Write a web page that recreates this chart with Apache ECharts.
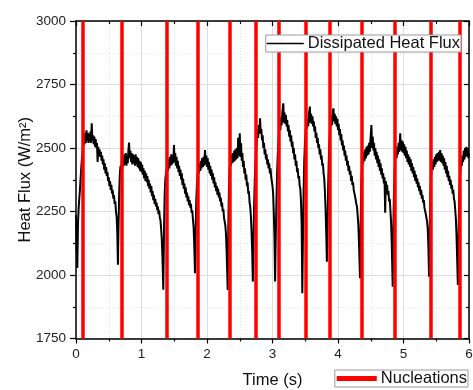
<!DOCTYPE html>
<html>
<head>
<meta charset="utf-8">
<script src="https://cdn.jsdelivr.net/npm/echarts@6/dist/echarts.min.js"></script>
<style>
html,body{margin:0;padding:0;background:#fff;}
#chart{width:473px;height:390px;}
</style>
</head>
<body>
<div id="chart"></div>
<script>
// ---- data ----
const xTicks = [0, 1, 2, 3, 4, 5, 6];
const yTicks = [1750, 2000, 2250, 2500, 2750, 3000];

const nucleationTimes = [0.102, 0.698, 1.379, 1.858, 2.347, 2.744, 3.089, 3.496, 3.867, 4.362, 4.870, 5.415, 5.863];

// Dissipated heat flux [time (s), W/m2]
const heatFlux = [
[0.000,2235],[0.006,2150],[0.010,2090],[0.014,2130],[0.020,2028],[0.030,2200],[0.040,2260],[0.050,2300],[0.060,2335],[0.070,2380],[0.080,2420],[0.090,2455],[0.100,2480],[0.110,2510],[0.120,2545],[0.130,2515],[0.140,2560],[0.150,2520],[0.160,2570],[0.170,2530],[0.180,2560],[0.190,2520],[0.200,2555],[0.210,2525],[0.220,2565],[0.230,2520],[0.240,2597],[0.250,2530],[0.260,2550],[0.270,2515],[0.280,2545],[0.290,2505],[0.300,2535],[0.310,2500],[0.320,2520],[0.330,2445],[0.340,2505],[0.350,2470],[0.360,2495],[0.370,2465],[0.380,2485],[0.390,2450],[0.400,2470],[0.410,2435],[0.420,2455],[0.430,2415],[0.440,2440],[0.450,2400],[0.460,2425],[0.470,2390],[0.480,2405],[0.490,2370],[0.500,2385],[0.510,2350],[0.520,2370],[0.530,2335],[0.540,2355],[0.550,2320],[0.560,2335],[0.570,2300],[0.580,2315],[0.590,2280],[0.600,2290],[0.610,2250],[0.620,2230],[0.630,2170],[0.640,2040],
[0.650,2200],[0.660,2330],[0.670,2400],[0.680,2430],[0.690,2415],[0.700,2450],
[0.710,2425],[0.720,2465],[0.730,2430],[0.740,2475],[0.750,2435],[0.760,2480],[0.770,2430],[0.780,2470],[0.790,2440],[0.800,2490],[0.810,2521],[0.820,2460],[0.830,2490],[0.840,2445],[0.850,2480],[0.860,2435],[0.870,2475],[0.880,2440],[0.890,2470],[0.900,2430],[0.910,2475],[0.920,2435],[0.930,2465],[0.940,2425],[0.950,2460],[0.960,2420],[0.970,2450],[0.980,2410],[0.990,2445],[1.000,2405],[1.010,2435],[1.020,2395],[1.030,2420],[1.040,2380],[1.050,2410],[1.060,2370],[1.070,2400],[1.080,2365],[1.090,2390],[1.100,2350],[1.110,2375],[1.120,2340],[1.130,2360],[1.140,2325],[1.150,2350],[1.160,2310],[1.170,2330],[1.180,2295],[1.190,2315],[1.200,2280],[1.210,2300],[1.220,2270],[1.230,2285],[1.240,2255],[1.250,2270],[1.260,2240],[1.270,2255],[1.280,2225],[1.290,2215],[1.300,2180],[1.310,2140],[1.320,2070],[1.333,1942],
[1.345,2200],[1.355,2330],[1.365,2380],[1.375,2400],[1.385,2420],
[1.395,2440],[1.405,2410],[1.415,2455],[1.425,2420],[1.435,2465],[1.445,2430],[1.455,2475],[1.465,2435],[1.475,2470],[1.485,2440],[1.496,2512],[1.505,2445],[1.515,2480],[1.525,2430],[1.535,2465],[1.545,2420],[1.555,2450],[1.565,2405],[1.575,2430],[1.585,2390],[1.595,2415],[1.605,2375],[1.615,2400],[1.625,2355],[1.635,2380],[1.645,2340],[1.655,2360],[1.665,2320],[1.675,2345],[1.685,2305],[1.695,2325],[1.705,2290],[1.715,2310],[1.725,2275],[1.735,2295],[1.745,2265],[1.755,2280],[1.765,2245],[1.775,2255],[1.785,2220],[1.795,2190],[1.805,2120],[1.817,2007],
[1.827,2180],[1.837,2300],[1.847,2360],[1.857,2395],[1.867,2420],
[1.877,2400],[1.887,2440],[1.897,2410],[1.907,2450],[1.917,2420],[1.927,2460],[1.937,2425],[1.947,2465],[1.957,2430],[1.970,2492],[1.980,2435],[1.990,2470],[2.000,2425],[2.010,2460],[2.020,2415],[2.030,2445],[2.040,2400],[2.050,2430],[2.060,2390],[2.070,2415],[2.080,2375],[2.090,2400],[2.100,2360],[2.110,2385],[2.120,2345],[2.130,2365],[2.140,2330],[2.150,2350],[2.160,2315],[2.170,2340],[2.180,2305],[2.190,2325],[2.200,2290],[2.210,2305],[2.220,2270],[2.230,2285],[2.240,2250],[2.250,2260],[2.260,2225],[2.270,2230],[2.280,2195],[2.290,2160],[2.300,2090],[2.316,1941],
[2.326,2200],[2.336,2350],[2.346,2420],[2.356,2450],
[2.366,2430],[2.376,2475],[2.386,2440],[2.396,2480],[2.406,2445],[2.416,2490],[2.426,2450],[2.436,2495],[2.446,2455],[2.456,2500],[2.466,2460],[2.476,2540],[2.486,2470],[2.500,2558],[2.510,2465],[2.520,2520],[2.530,2450],[2.540,2480],[2.550,2425],[2.560,2450],[2.570,2400],[2.580,2420],[2.590,2375],[2.600,2395],[2.610,2350],[2.620,2365],[2.630,2320],[2.640,2330],[2.650,2285],[2.660,2270],[2.670,2230],[2.680,2170],[2.690,2090],[2.700,1974],
[2.710,2150],[2.720,2280],[2.730,2380],[2.740,2440],[2.750,2490],
[2.760,2530],[2.770,2575],[2.780,2540],[2.790,2590],[2.800,2555],[2.810,2617],[2.820,2560],[2.830,2575],[2.840,2530],[2.850,2550],[2.860,2500],[2.870,2520],[2.880,2475],[2.890,2495],[2.900,2455],[2.910,2475],[2.920,2435],[2.930,2455],[2.940,2420],[2.950,2440],[2.960,2400],[2.970,2420],[2.980,2385],[2.990,2390],[3.000,2350],[3.010,2320],[3.020,2245],[3.030,2150],[3.040,1974],
[3.050,2150],[3.060,2290],[3.070,2400],[3.080,2470],[3.090,2520],
[3.100,2570],[3.110,2600],[3.120,2570],[3.130,2620],[3.140,2590],[3.150,2640],[3.165,2676],[3.175,2600],[3.185,2640],[3.195,2595],[3.205,2630],[3.215,2585],[3.225,2610],[3.235,2565],[3.245,2590],[3.255,2545],[3.265,2570],[3.275,2525],[3.285,2550],[3.295,2505],[3.305,2525],[3.315,2480],[3.325,2500],[3.335,2455],[3.345,2475],[3.355,2430],[3.365,2450],[3.375,2405],[3.385,2420],[3.395,2380],[3.405,2390],[3.415,2350],[3.425,2340],[3.435,2290],[3.445,2200],[3.455,1928],
[3.465,2150],[3.475,2330],[3.485,2450],[3.495,2520],[3.505,2560],
[3.515,2600],[3.525,2575],[3.535,2615],[3.545,2585],[3.555,2630],[3.570,2663],[3.580,2600],[3.590,2635],[3.600,2595],[3.610,2625],[3.620,2585],[3.630,2605],[3.640,2565],[3.650,2585],[3.660,2540],[3.670,2560],[3.680,2520],[3.690,2540],[3.700,2500],[3.710,2515],[3.720,2475],[3.730,2495],[3.740,2455],[3.750,2470],[3.760,2430],[3.770,2440],[3.780,2400],[3.790,2380],[3.800,2330],[3.810,2260],[3.820,2170],[3.830,2052],
[3.840,2200],[3.850,2350],[3.860,2460],[3.870,2530],[3.880,2580],
[3.890,2600],[3.900,2625],[3.910,2590],[3.920,2640],[3.930,2656],[3.940,2605],[3.950,2635],[3.960,2595],[3.970,2625],[3.980,2585],[3.990,2615],[4.000,2570],[4.010,2595],[4.020,2550],[4.030,2575],[4.040,2530],[4.050,2555],[4.060,2510],[4.070,2530],[4.080,2490],[4.090,2510],[4.100,2470],[4.110,2490],[4.120,2450],[4.130,2470],[4.140,2430],[4.150,2450],[4.160,2410],[4.170,2430],[4.180,2395],[4.190,2410],[4.200,2370],[4.210,2390],[4.220,2355],[4.230,2365],[4.240,2335],[4.250,2340],[4.260,2310],[4.270,2315],[4.280,2280],[4.290,2270],[4.300,2235],[4.310,2200],[4.320,2130],[4.336,1987],
[4.346,2200],[4.356,2360],[4.366,2420],[4.376,2460],
[4.386,2440],[4.396,2485],[4.406,2450],[4.416,2495],[4.426,2460],[4.436,2505],[4.446,2470],[4.456,2510],[4.466,2475],[4.476,2520],[4.486,2485],[4.496,2535],[4.510,2590],[4.520,2500],[4.530,2545],[4.540,2490],[4.550,2520],[4.560,2470],[4.570,2500],[4.580,2455],[4.590,2485],[4.600,2440],[4.610,2470],[4.620,2425],[4.630,2455],[4.640,2410],[4.650,2440],[4.660,2395],[4.670,2420],[4.680,2380],[4.690,2400],[4.700,2360],[4.710,2385],[4.720,2245],[4.730,2370],[4.740,2335],[4.750,2355],[4.760,2315],[4.770,2330],[4.780,2290],[4.790,2300],[4.800,2255],[4.810,2210],[4.820,2130],[4.835,1954],
[4.845,2180],[4.855,2330],[4.865,2410],[4.875,2460],
[4.885,2490],[4.895,2460],[4.905,2505],[4.915,2475],[4.925,2520],[4.935,2485],[4.950,2558],[4.960,2490],[4.970,2530],[4.980,2485],[4.990,2525],[5.000,2480],[5.010,2515],[5.020,2470],[5.030,2505],[5.040,2460],[5.050,2490],[5.060,2445],[5.070,2475],[5.080,2435],[5.090,2465],[5.100,2425],[5.110,2455],[5.120,2410],[5.130,2440],[5.140,2400],[5.150,2425],[5.160,2385],[5.170,2410],[5.180,2370],[5.190,2395],[5.200,2360],[5.210,2380],[5.220,2345],[5.230,2365],[5.240,2330],[5.250,2350],[5.260,2315],[5.270,2335],[5.280,2300],[5.290,2315],[5.300,2285],[5.310,2295],[5.320,2265],[5.330,2270],[5.340,2240],[5.350,2245],[5.360,2210],[5.370,2180],[5.380,2110],[5.390,1993],
[5.400,2180],[5.410,2320],[5.420,2390],[5.430,2420],
[5.440,2445],[5.450,2415],[5.460,2455],[5.470,2425],[5.480,2465],[5.490,2435],[5.500,2475],[5.510,2445],[5.520,2480],[5.530,2450],[5.540,2485],[5.550,2450],[5.560,2492],[5.570,2445],[5.580,2480],[5.590,2440],[5.600,2470],[5.610,2430],[5.620,2460],[5.630,2415],[5.640,2445],[5.650,2400],[5.660,2430],[5.670,2385],[5.680,2410],[5.690,2370],[5.700,2390],[5.710,2355],[5.720,2375],[5.730,2340],[5.740,2355],[5.750,2320],[5.760,2335],[5.770,2300],[5.780,2290],[5.790,2255],[5.800,2220],[5.810,2150],[5.830,1961],
[5.840,2150],[5.850,2300],[5.860,2380],[5.870,2420],
[5.880,2450],[5.890,2430],[5.900,2470],[5.910,2445],[5.920,2490],[5.930,2455],[5.940,2500],[5.950,2465],[5.960,2505],[5.970,2470],[5.980,2495],[5.990,2460],[6.000,2480]
];

// ---- chart ----
const FONT = 'Liberation Sans, Arial, sans-serif';
const chart = echarts.init(document.getElementById('chart'), null, {renderer: 'canvas'});

const xMin = xTicks[0], xMax = xTicks[xTicks.length - 1];
const yMin = yTicks[0], yMax = yTicks[yTicks.length - 1];
const xInt = xTicks[1] - xTicks[0];
const yInt = yTicks[1] - yTicks[0];

const axisLineStyle = {color: '#000', width: 1.5};
const plain = v => String(v);

chart.setOption({
  animation: false,
  backgroundColor: '#fff',
  grid: {left: 76, right: 4, top: 21, bottom: 51.5, containLabel: false, outerBoundsMode: 'none'},
  legend: [
    {
      data: ['Dissipated Heat Flux'],
      right: 12, top: 35,
      icon: 'rect', itemWidth: 37, itemHeight: 1.5, itemGap: 4,
      padding: [0, 1, 0, 1],
      backgroundColor: '#fff', borderColor: '#9a9a9a', borderWidth: 1,
      textStyle: {fontFamily: FONT, fontSize: 16.5, color: '#111', padding: [0, 0, 0, -1]},
      selectedMode: false, z: 10
    },
    {
      data: ['Nucleations'],
      right: 5, top: 370,
      icon: 'rect', itemWidth: 40, itemHeight: 5, itemGap: 4,
      padding: [0, 1, 0, 2],
      backgroundColor: '#fff', borderColor: '#9a9a9a', borderWidth: 1,
      textStyle: {fontFamily: FONT, fontSize: 16.5, color: '#111', padding: [0, 0, 0, -1]},
      selectedMode: false, z: 10
    }
  ],
  xAxis: [
    {
      type: 'value', position: 'bottom', min: xMin, max: xMax, interval: xInt,
      name: 'Time (s)', nameLocation: 'middle', nameGap: 33, nameMoveOverlap: false,
      nameTextStyle: {fontFamily: FONT, fontSize: 16.5, color: '#111'},
      axisLine: {show: true, onZero: false, lineStyle: axisLineStyle},
      axisTick: {show: true, length: 5, lineStyle: {color: '#000', width: 1.2}},
      minorTick: {show: true, splitNumber: 2, length: 3, lineStyle: {color: '#000', width: 1.2}},
      axisLabel: {fontFamily: FONT, fontSize: 13.5, color: '#222', margin: 9, formatter: plain},
      splitLine: {show: true, lineStyle: {color: '#dedede', width: 1}},
      minorSplitLine: {show: true, lineStyle: {color: '#e4e4e4', width: 1, type: [1, 2]}}
    },
    {
      type: 'value', position: 'top', min: xMin, max: xMax, interval: xInt,
      axisLine: {show: true, onZero: false, lineStyle: axisLineStyle},
      axisTick: {show: true, inside: true, length: 5, lineStyle: {color: '#000', width: 1.2}},
      minorTick: {show: true, splitNumber: 2, length: 3, lineStyle: {color: '#000', width: 1.2}},
      axisLabel: {show: false},
      splitLine: {show: false}
    }
  ],
  yAxis: [
    {
      type: 'value', position: 'left', min: yMin, max: yMax, interval: yInt,
      name: 'Heat Flux (W/m²)', nameLocation: 'middle', nameGap: 42, nameMoveOverlap: false,
      nameTextStyle: {fontFamily: FONT, fontSize: 16.5, color: '#111'},
      axisLine: {show: true, onZero: false, lineStyle: axisLineStyle},
      axisTick: {show: true, length: 6, lineStyle: {color: '#000', width: 1.2}},
      minorTick: {show: true, splitNumber: 2, length: 3, lineStyle: {color: '#000', width: 1.2}},
      axisLabel: {fontFamily: FONT, fontSize: 13.5, color: '#222', margin: 10, formatter: plain},
      splitLine: {show: true, lineStyle: {color: '#dedede', width: 1}},
      minorSplitLine: {show: true, lineStyle: {color: '#e4e4e4', width: 1, type: [1, 2]}}
    },
    {
      type: 'value', position: 'right', min: yMin, max: yMax, interval: yInt,
      axisLine: {show: true, onZero: false, lineStyle: axisLineStyle},
      axisTick: {show: true, inside: true, length: 5, lineStyle: {color: '#000', width: 1.2}},
      minorTick: {show: true, splitNumber: 2, length: 3, lineStyle: {color: '#000', width: 1.2}},
      axisLabel: {show: false},
      splitLine: {show: false}
    }
  ],
  series: [
    {
      name: 'Dissipated Heat Flux',
      type: 'line',
      xAxisIndex: 0, yAxisIndex: 0,
      data: heatFlux,
      showSymbol: false, symbol: 'none',
      sampling: 'none',
      color: '#000',
      lineStyle: {color: '#000', width: 2},
      z: 3
    },
    {
      name: 'Nucleations',
      type: 'line',
      xAxisIndex: 0, yAxisIndex: 0,
      data: [],
      color: '#ff0000',
      lineStyle: {color: '#ff0000', width: 4},
      z: 5,
      markLine: {
        silent: true,
        symbol: ['none', 'none'],
        label: {show: false},
        lineStyle: {color: '#ff0000', width: 3.5, type: 'solid'},
        emphasis: {disabled: true},
        data: nucleationTimes.map(t => ({xAxis: t}))
      }
    }
  ]
});
</script>
</body>
</html>
